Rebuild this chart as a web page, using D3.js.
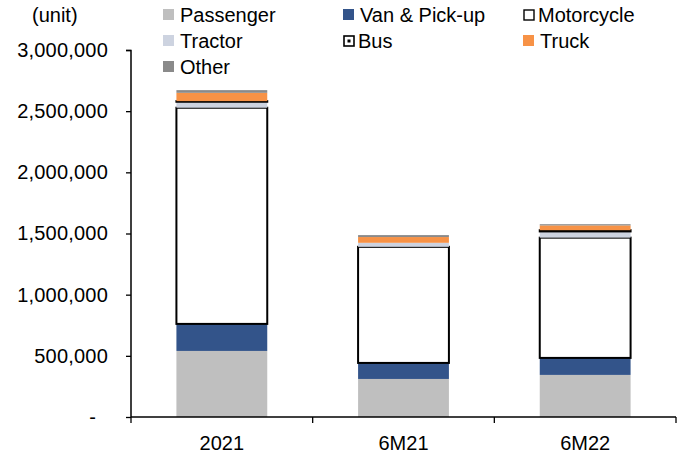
<!DOCTYPE html>
<html lang="en">
<head>
<meta charset="UTF-8">
<title>Vehicle units stacked</title>
<style>
  body { margin: 0; background: #fff; }
  svg text { font-family: "Liberation Sans", Arial, sans-serif; fill: #000; }
</style>
</head>
<body>
<svg id="chart" width="678" height="457"></svg>
<script src="https://d3js.org/d3.v7.min.js"></script>
<script>
// data (units)
const periods = ["2021", "6M21", "6M22"];
const seriesNames = ["Passenger", "Van & Pick-up", "Motorcycle", "Tractor", "Bus", "Truck", "Other"];
const passenger  = [540000, 311000, 344000];
const vanPickup  = [221000, 131000, 139000];
const motorcycle = [1767000, 949000, 983000];
const tractor    = [49000, 33000, 51000];
const bus        = [5000, 0, 10000];
const truck      = [68000, 47000, 39000];
const other      = [22000, 16000, 10000];
const yTicks = [0, 500000, 1000000, 1500000, 2000000, 2500000, 3000000];

const values = [passenger, vanPickup, motorcycle, tractor, bus, truck, other];
const fills   = ["#bfbfbf", "#33548a", "#ffffff", "#cdd3e0", "#ffffff", "#f79246", "#8a8a8a"];
const strokes = [null, null, "#000", null, "#000", null, null];

const rows = periods.map((p, i) => {
  const r = { period: p };
  seriesNames.forEach((s, j) => r[s] = values[j][i]);
  return r;
});

const svg = d3.select("#chart");
const FS = 20;

const x = d3.scaleBand().domain(periods).range([131, 676]).paddingInner(0.5).paddingOuter(0.25);
const y = d3.scaleLinear().domain([0, 3000000]).range([417, 50]);

const layers = d3.stack().keys(seriesNames)(rows);

layers.forEach((layer, j) => {
  svg.append("g").selectAll("rect")
    .data(layer.filter(d => d[1] > d[0]))
    .join("rect")
      .attr("x", d => x(d.data.period))
      .attr("width", x.bandwidth())
      .attr("y", d => y(d[1]))
      .attr("height", d => y(d[0]) - y(d[1]))
      .attr("fill", fills[j])
      .attr("stroke", strokes[j] || "none")
      .attr("stroke-width", strokes[j] ? 2 : 0);
});

// y axis
const yAxis = d3.axisLeft(y).tickValues(yTicks).tickSize(5)
  .tickFormat(d => d === 0 ? "-" : d3.format(",")(d));
const gy = svg.append("g").attr("transform", "translate(131,0)").call(yAxis);
gy.select(".domain").attr("stroke", "#000").attr("stroke-width", 1.5).attr("d", "M-5,50.5H0V417");
gy.selectAll(".tick line").attr("stroke", "#000").attr("stroke-width", 1.3);
gy.selectAll(".tick text").attr("font-size", FS).attr("letter-spacing", "0.2px")
  .attr("font-family", "Liberation Sans, Arial, sans-serif")
  .attr("x", d => d === 0 ? -35 : -23);

// x axis
const gx = svg.append("g").attr("transform", "translate(0,417)");
gx.append("line").attr("x1", 131).attr("x2", 676).attr("stroke", "#000").attr("stroke-width", 1.5);
const bounds = [131, ...periods.map(p => x(p) + x.bandwidth() / 2 + x.step() / 2)];
gx.selectAll("line.tk").data(bounds).join("line").attr("class", "tk")
  .attr("x1", d => d).attr("x2", d => d).attr("y1", 0).attr("y2", 6)
  .attr("stroke", "#000").attr("stroke-width", 1.3);
gx.selectAll("text").data(periods).join("text")
  .attr("x", d => x(d) + x.bandwidth() / 2).attr("y", 33)
  .attr("text-anchor", "middle").attr("font-size", FS)
  .text(d => d);

// unit label
svg.append("text").attr("x", 32).attr("y", 22).attr("font-size", FS).text("(unit)");

// legend
const legendPos = [
  [163, 15], [343, 15], [523, 15],
  [163, 41], [343, 41], [523, 41],
  [163, 67]
];
seriesNames.forEach((s, j) => {
  const [lx, ly] = legendPos[j];
  const g = svg.append("g").attr("transform", `translate(${lx},${ly})`);
  if (s === "Bus") {
    g.append("rect").attr("x", 1).attr("y", -5).attr("width", 10).attr("height", 10)
      .attr("fill", "#fff").attr("stroke", "#000").attr("stroke-width", 1.6);
    g.append("rect").attr("x", 4.5).attr("y", -1.5).attr("width", 3).attr("height", 3).attr("fill", "#000");
  } else if (s === "Motorcycle") {
    g.append("rect").attr("x", 1).attr("y", -5).attr("width", 10).attr("height", 10)
      .attr("fill", "#fff").attr("stroke", "#000").attr("stroke-width", 1.4);
  } else {
    g.append("rect").attr("x", 0).attr("y", -6).attr("width", 11).attr("height", 11).attr("fill", fills[j]);
  }
  g.append("text").attr("x", s === "Bus" || s === "Motorcycle" ? 15 : 17).attr("y", 7)
    .attr("font-size", FS).text(s);
});
</script>
</body>
</html>
